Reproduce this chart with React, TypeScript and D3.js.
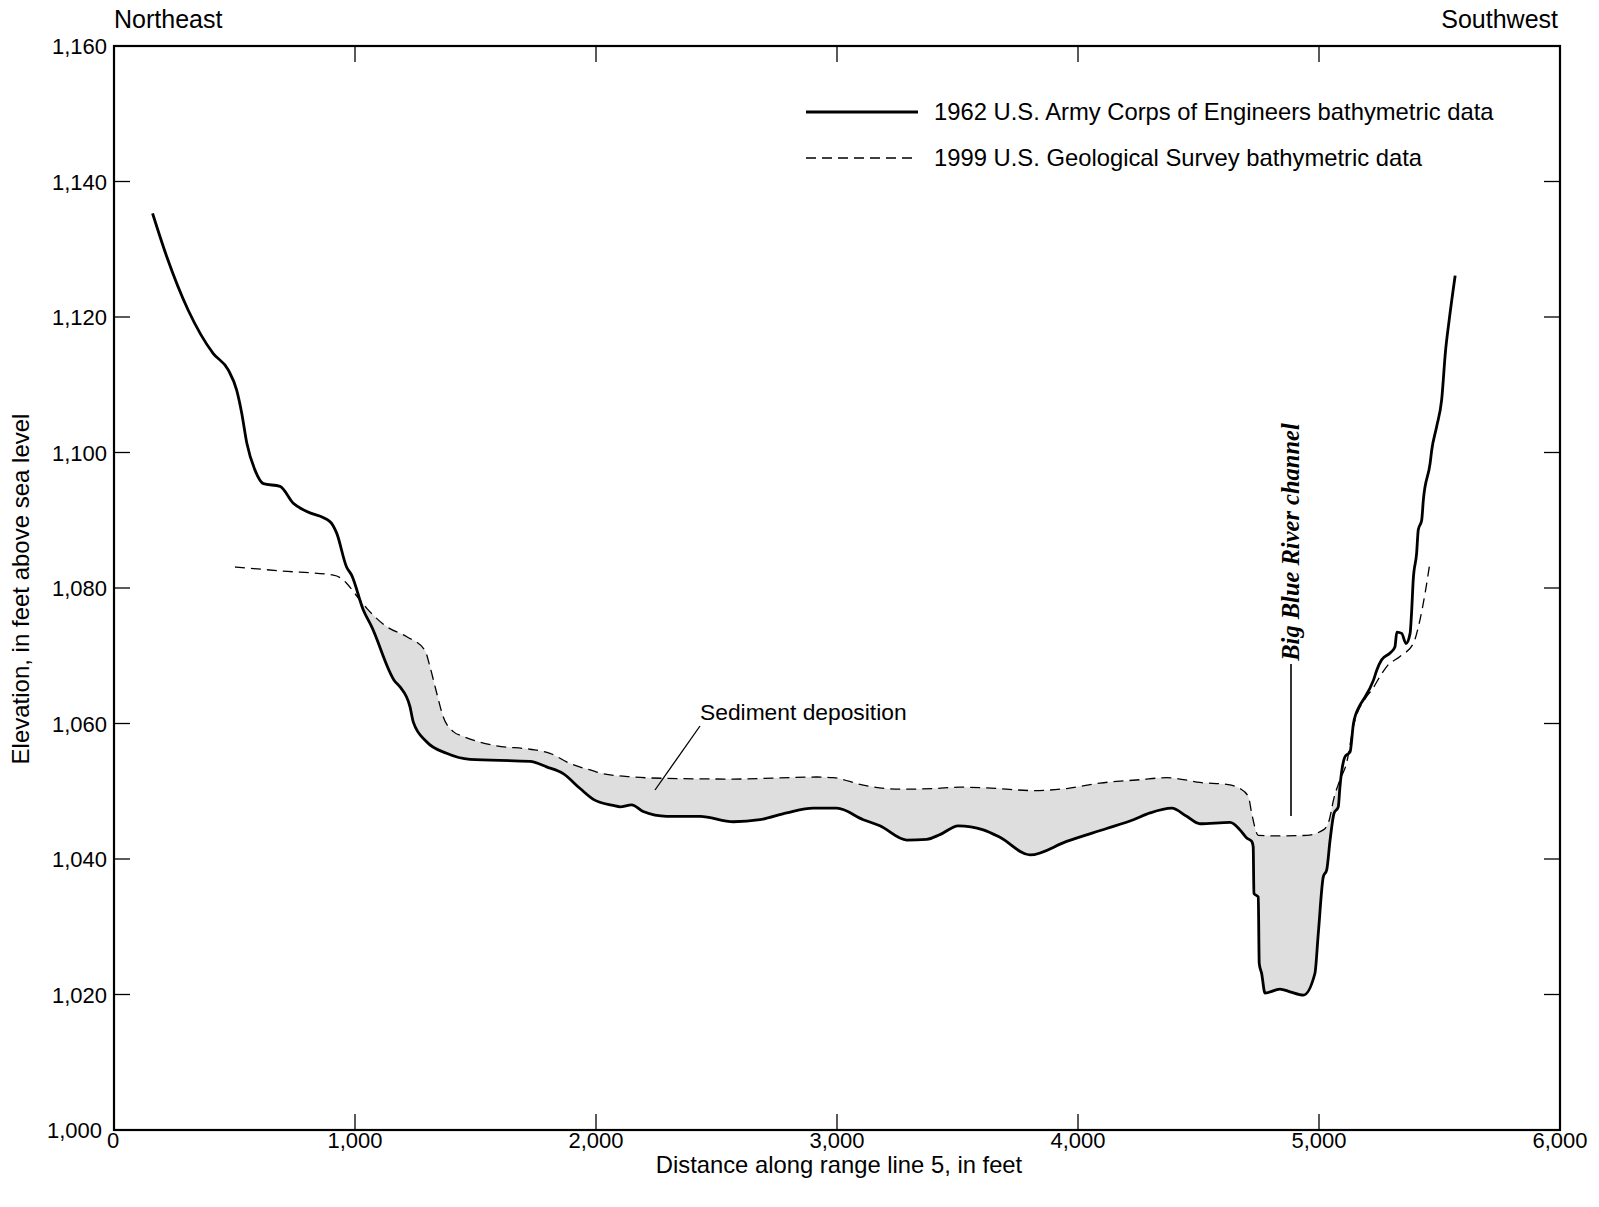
import React from 'react';
import * as d3 from 'd3';

// 1962 U.S. Army Corps of Engineers bathymetric data (distance ft, elevation ft)
const dist1962 = [160, 219, 308, 412, 474, 509, 530, 551, 585, 620, 689, 744, 800, 896, 924, 965, 986, 1034, 1069, 1166, 1187, 1228, 1242, 1297, 1380, 1477, 1726, 1795, 1864, 1934, 1989, 2072, 2100, 2148, 2196, 2293, 2432, 2570, 2680, 2791, 2902, 2999, 3109, 3178, 3289, 3372, 3427, 3503, 3607, 3676, 3801, 3953, 4119, 4230, 4299, 4389, 4451, 4506, 4631, 4672, 4700, 4721, 4727, 4730, 4748, 4752, 4762, 4776, 4838, 4880, 4935, 4983, 4997, 5018, 5032, 5046, 5062, 5080, 5087, 5108, 5129, 5143, 5170, 5184, 5226, 5240, 5260, 5295, 5315, 5323, 5343, 5361, 5378, 5384, 5391, 5405, 5412, 5426, 5433, 5461, 5468, 5488, 5509, 5525, 5540, 5565];
const elev1962 = [1135.3, 1128.9, 1121.0, 1114.6, 1112.2, 1109.2, 1105.8, 1101.4, 1097.4, 1095.4, 1095.0, 1092.5, 1091.3, 1089.8, 1088.1, 1083.1, 1081.9, 1076.8, 1074.3, 1066.2, 1065.4, 1062.5, 1060.2, 1057.3, 1055.6, 1054.7, 1054.4, 1053.6, 1052.6, 1050.4, 1048.8, 1047.9, 1047.7, 1048.0, 1047.0, 1046.3, 1046.3, 1045.5, 1045.8, 1046.8, 1047.5, 1047.5, 1045.8, 1044.9, 1042.8, 1042.9, 1043.6, 1044.9, 1044.3, 1043.2, 1040.6, 1042.6, 1044.5, 1045.8, 1046.8, 1047.5, 1046.3, 1045.2, 1045.4, 1044.3, 1043.1, 1042.6, 1041.8, 1034.9, 1034.4, 1024.6, 1023.1, 1020.2, 1020.8, 1020.4, 1019.9, 1023.1, 1029.0, 1037.4, 1038.4, 1042.8, 1046.7, 1047.7, 1050.7, 1055.1, 1055.8, 1060.0, 1062.7, 1063.5, 1066.4, 1067.9, 1069.4, 1070.4, 1071.3, 1073.5, 1073.3, 1071.8, 1073.3, 1076.3, 1081.2, 1085.1, 1088.6, 1090.0, 1093.0, 1098.4, 1100.4, 1103.8, 1107.8, 1115.0, 1119.5, 1126.1];

// 1999 U.S. Geological Survey bathymetric data
const dist1999 = [502, 700, 910, 951, 965, 1021, 1049, 1131, 1215, 1290, 1311, 1339, 1366, 1408, 1449, 1588, 1726, 1809, 1892, 1989, 2017, 2155, 2293, 2570, 2916, 2985, 3109, 3261, 3400, 3510, 3621, 3815, 3953, 4091, 4257, 4368, 4423, 4506, 4617, 4672, 4707, 4721, 4748, 4838, 4949, 5018, 5043, 5060, 5087, 5114, 5143, 5198, 5220, 5261, 5281, 5336, 5391, 5419, 5440, 5461];
const elev1999 = [1083.1, 1082.5, 1081.9, 1081.2, 1080.7, 1078.2, 1077.0, 1074.3, 1072.8, 1070.8, 1068.4, 1064.5, 1061.0, 1058.8, 1058.1, 1056.7, 1056.2, 1055.6, 1054.1, 1053.0, 1052.7, 1052.1, 1051.9, 1051.8, 1052.1, 1052.0, 1050.9, 1050.3, 1050.4, 1050.6, 1050.5, 1050.1, 1050.4, 1051.2, 1051.7, 1052.0, 1051.8, 1051.3, 1051.0, 1050.4, 1049.2, 1046.7, 1043.5, 1043.4, 1043.5, 1044.3, 1045.8, 1048.7, 1051.7, 1054.1, 1059.6, 1064.0, 1065.0, 1067.4, 1068.4, 1069.9, 1071.8, 1075.3, 1079.2, 1083.9];

const xTicks = [0, 1000, 2000, 3000, 4000, 5000, 6000];
const yTicks = [1000, 1020, 1040, 1060, 1080, 1100, 1120, 1140, 1160];
const legendLabels = [
  '1962 U.S. Army Corps of Engineers bathymetric data',
  '1999 U.S. Geological Survey bathymetric data',
];

const SANS = "'Liberation Sans', Arial, sans-serif";
const SERIF = "'Liberation Serif', 'Times New Roman', serif";

type P = [number, number];

export default function App() {
  const W = 1599, H = 1207;
  const left = 114, right = 1560, top = 46, bottom = 1130;
  const x = d3.scaleLinear().domain([0, 6000]).range([left, right]);
  const y = d3.scaleLinear().domain([1000, 1160]).range([bottom, top]);

  const s1962: P[] = dist1962.map((d, i) => [d, elev1962[i]]);
  const s1999: P[] = dist1999.map((d, i) => [d, elev1999[i]]);
  const curve = d3.curveMonotoneX;

  const line = d3.line<P>().x(d => x(d[0])).y(d => y(d[1])).curve(curve);
  const belowDashed = d3.area<P>().x(d => x(d[0])).y0(bottom).y1(d => y(d[1])).curve(curve);
  const aboveSolid = d3.area<P>().x(d => x(d[0])).y0(d => y(d[1])).y1(top).curve(curve);

  const fmt = d3.format(',');
  const tickLen = 16;

  return (
    <svg width={W} height={H} style={{ position: 'absolute', left: 0, top: 0, display: 'block', background: '#fff' }}>
      <defs>
        <clipPath id="aboveSolid">
          <path d={aboveSolid(s1962) || ''} />
        </clipPath>
      </defs>

      {/* sediment deposition fill */}
      <path d={belowDashed(s1999) || ''} fill="#dedede" stroke="none" clipPath="url(#aboveSolid)" />

      {/* data lines */}
      <path d={line(s1999) || ''} fill="none" stroke="#000" strokeWidth={1.3} strokeDasharray="10,6" />
      <path d={line(s1962) || ''} fill="none" stroke="#000" strokeWidth={2.8} strokeLinejoin="round" />

      {/* frame */}
      <rect x={left} y={top} width={right - left} height={bottom - top} fill="none" stroke="#000" strokeWidth={2.2} />

      {/* x ticks */}
      {xTicks.map(t => (
        <g key={'x' + t}>
          {t > 0 && t < 6000 && (
            <>
              <line x1={x(t)} x2={x(t)} y1={bottom} y2={bottom - tickLen} stroke="#000" strokeWidth={1.3} />
              <line x1={x(t)} x2={x(t)} y1={top} y2={top + tickLen} stroke="#000" strokeWidth={1.3} />
            </>
          )}
          <text x={x(t) - (t === 0 ? 1 : 0)} y={1148} textAnchor="middle" fontFamily={SANS} fontSize={22} fill="#000">
            {fmt(t)}
          </text>
        </g>
      ))}

      {/* y ticks */}
      {yTicks.map(t => (
        <g key={'y' + t}>
          {t > 1000 && t < 1160 && (
            <>
              <line x1={left} x2={left + tickLen} y1={y(t)} y2={y(t)} stroke="#000" strokeWidth={1.3} />
              <line x1={right} x2={right - tickLen} y1={y(t)} y2={y(t)} stroke="#000" strokeWidth={1.3} />
            </>
          )}
          <text x={t === 1000 ? 102 : 107} y={y(t) + 8} textAnchor="end" fontFamily={SANS} fontSize={22} fill="#000">
            {fmt(t)}
          </text>
        </g>
      ))}

      {/* direction labels */}
      <text x={114} y={28} fontFamily={SANS} fontSize={25} fill="#000">Northeast</text>
      <text x={1558} y={28} textAnchor="end" fontFamily={SANS} fontSize={25} fill="#000">Southwest</text>

      {/* axis titles */}
      <text x={839} y={1173} textAnchor="middle" fontFamily={SANS} fontSize={23.8} fill="#000">
        Distance along range line 5, in feet
      </text>
      <text transform="translate(29,589) rotate(-90)" textAnchor="middle" fontFamily={SANS} fontSize={24} fill="#000">
        Elevation, in feet above sea level
      </text>

      {/* legend */}
      <line x1={806} x2={918} y1={112} y2={112} stroke="#000" strokeWidth={2.8} />
      <text x={934} y={120} fontFamily={SANS} fontSize={23.8} fill="#000">{legendLabels[0]}</text>
      <line x1={806} x2={918} y1={158} y2={158} stroke="#000" strokeWidth={1.3} strokeDasharray="10,6" />
      <text x={934} y={166} fontFamily={SANS} fontSize={23.8} fill="#000">{legendLabels[1]}</text>

      {/* annotations */}
      <text x={700} y={720} fontFamily={SANS} fontSize={22.8} fill="#000">Sediment deposition</text>
      <line x1={700} y1={726} x2={655} y2={790} stroke="#000" strokeWidth={1.3} />

      <text transform="translate(1299,542) rotate(-90)" textAnchor="middle" fontFamily={SERIF} fontStyle="italic" fontWeight="bold" fontSize={24.5} fill="#000">
        Big Blue River channel
      </text>
      <line x1={1291} x2={1291} y1={664} y2={816} stroke="#000" strokeWidth={1.6} />
    </svg>
  );
}
